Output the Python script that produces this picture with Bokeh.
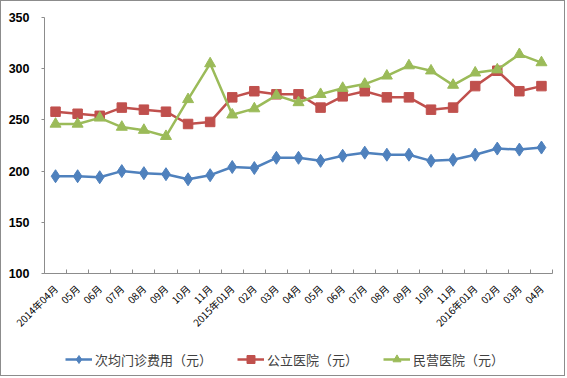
from bokeh.plotting import figure
from bokeh.models import FixedTicker, Legend, LegendItem, Range1d
from bokeh.embed import file_html
from bokeh.resources import INLINE

months = ["2014年04月", "05月", "06月", "07月", "08月", "09月", "10月", "11月",
          "2015年01月", "02月", "03月", "04月", "05月", "06月", "07月", "08月",
          "09月", "10月", "11月", "2016年01月", "02月", "03月", "04月"]
avg_fee = [195, 195, 194, 200, 198, 197, 192, 196, 204, 203, 213, 213,
           210, 215, 218, 216, 216, 210, 211, 216, 222, 221, 223]
public_hosp = [258, 256, 254, 262, 260, 258, 246, 248, 272, 278, 275, 275,
               262, 273, 278, 272, 272, 260, 262, 283, 298, 278, 283]
private_hosp = [246, 246, 252, 243, 240, 234, 270, 305, 255, 261, 274, 267,
                275, 281, 285, 293, 303, 298, 284, 296, 299, 314, 306]
series_names = ["次均门诊费用（元）", "公立医院（元）", "民营医院（元）"]
y_ticks = [100, 150, 200, 250, 300, 350]
y_min, y_max = 100, 350

x = list(range(len(months)))
BLUE, RED, GREEN = "#4F81BD", "#C0504D", "#9BBB59"

# layout geometry (pixels): the frame covers the whole canvas and the axes
# are drawn at fixed locations inside it
W, H = 565, 376
LEFT, RIGHT, TOP, PLOT_H = 43, 14, 16, 256
n = len(months)
x_lo, x_hi = -0.5, n - 0.5
px_x = (W - LEFT - RIGHT) / (x_hi - x_lo)
px_y = PLOT_H / (y_max - y_min)
x_start = x_lo - LEFT / px_x
x_end = x_hi + RIGHT / px_x
y_end = y_max + TOP / px_y
y_start = y_end - H / px_y

p = figure(width=W, height=H, output_backend="svg", toolbar_location=None,
           x_range=Range1d(x_start, x_end), y_range=Range1d(y_start, y_end),
           min_border_left=0, min_border_right=0, min_border_top=0,
           min_border_bottom=0)
p.styles = {"border": "1px solid #8c8c8c"}
p.outline_line_color = None
p.xgrid.visible = False
p.ygrid.visible = False

# y axis at x = -0.5
p.yaxis.fixed_location = x_lo
p.yaxis.ticker = FixedTicker(ticks=y_ticks)
p.yaxis.bounds = (y_min, y_max)
p.yaxis.axis_line_color = "#8c8c8c"
p.yaxis.major_tick_line_color = "#8c8c8c"
p.yaxis.major_tick_out = 3
p.yaxis.major_tick_in = 0
p.yaxis.minor_tick_line_color = None
p.yaxis.major_label_text_font = "Liberation Sans"
p.yaxis.major_label_text_font_style = "bold"
p.yaxis.major_label_text_font_size = "12.5px"
p.yaxis.major_label_text_color = "#000000"
p.yaxis.major_label_standoff = 12

# x axis at y = 100
p.xaxis.fixed_location = y_min
p.xaxis.bounds = (x_lo, x_hi)
p.xaxis.ticker = FixedTicker(ticks=x, minor_ticks=[i - 0.5 for i in range(n + 1)])
p.xaxis.major_label_overrides = {i: m for i, m in enumerate(months)}
p.xaxis.major_label_orientation = 0.785
p.xaxis.axis_line_color = "#8c8c8c"
p.xaxis.major_tick_line_color = None
p.xaxis.minor_tick_line_color = "#8c8c8c"
p.xaxis.minor_tick_in = 4
p.xaxis.minor_tick_out = 0
p.xaxis.major_label_text_font = "Noto Sans CJK SC"
p.xaxis.major_label_text_font_size = "10px"
p.xaxis.major_label_text_color = "#000000"
p.xaxis.major_label_standoff = 7

l1 = p.line(x, avg_fee, line_color=BLUE, line_width=2.5)
m1 = p.scatter(x, avg_fee, marker="diamond", size=13, fill_color=BLUE, line_color=BLUE)
l2 = p.line(x, public_hosp, line_color=RED, line_width=2.5)
m2 = p.scatter(x, public_hosp, marker="square", size=9.5, fill_color=RED, line_color=RED)
l3 = p.line(x, private_hosp, line_color=GREEN, line_width=2.5)
m3 = p.scatter(x, private_hosp, marker="triangle", size=11, fill_color=GREEN, line_color=GREEN)

legend = Legend(items=[LegendItem(label=series_names[0], renderers=[l1, m1]),
                       LegendItem(label=series_names[1], renderers=[l2, m2]),
                       LegendItem(label=series_names[2], renderers=[l3, m3])],
                location=(64, 8), orientation="horizontal")
legend.label_text_font = "Noto Sans CJK SC"
legend.label_text_font_size = "13px"
legend.label_text_color = "#404040"
legend.glyph_width = 27
legend.spacing = 25
legend.padding = 4
legend.label_standoff = 3
legend.border_line_color = None
legend.background_fill_alpha = 0
p.add_layout(legend, "center")

open("out.html", "w").write(file_html(p, INLINE))
